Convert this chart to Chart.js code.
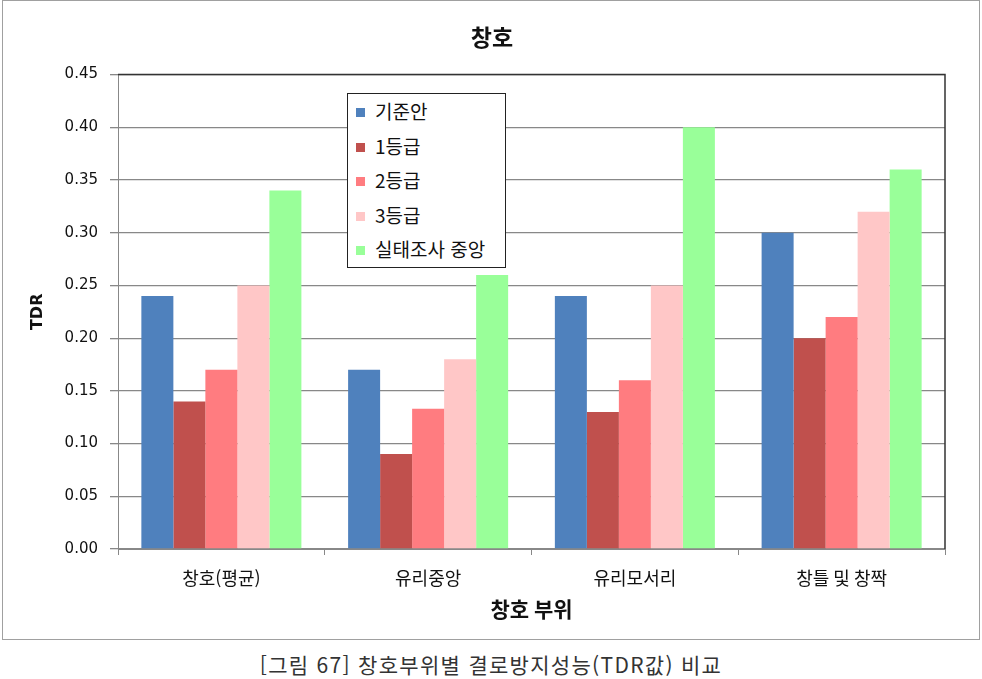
<!DOCTYPE html>
<html lang="ko">
<head>
  <meta charset="UTF-8">
  <title>창호</title>
  <script src="https://cdn.jsdelivr.net/npm/chart.js"></script>
  <style>
    body { margin: 0; background: #fff; }
    #frame { position: absolute; left: 2px; top: 0px; width: 976px; height: 638px; border: 1px solid #a0a0a0; }
    #legendBox { position: absolute; left: 344px; top: 92px; width: 157px; border: 1px solid #222; background: #fff;
      font-family: "Noto Sans CJK KR", sans-serif; font-size: 19px; color: #111; padding: 0; }
    #legendBox div { height: 34.5px; line-height: 34.5px; padding-left: 8px; white-space: nowrap; }
    #legendBox span { display: inline-block; width: 9px; height: 9px; margin-right: 10px; vertical-align: 2px; }
    #caption { position: absolute; left: 0; top: 649px; width: 982px; text-align: center;
      font-family: "Noto Sans CJK KR", sans-serif; font-size: 21px; color: #333; letter-spacing: 1.3px; }
  </style>
</head>
<body>
<div id="frame">
  <canvas id="tdrChart" width="976" height="638"></canvas>
  <div id="legendBox"></div>
</div>
<div id="caption">[그림 67] 창호부위별 결로방지성능(TDR값) 비교</div>

<script>
  // categories and series
  var parts = ['창호(평균)', '유리중앙', '유리모서리', '창틀 및 창짝'];
  var seriesNames = ['기준안', '1등급', '2등급', '3등급', '실태조사 중앙'];
  var seriesColors = ['#4F81BD', '#C0504D', '#FF7C80', '#FFC7C7', '#99FF99'];
  var base = [0.24, 0.17, 0.24, 0.30];
  var grade1 = [0.14, 0.09, 0.13, 0.20];
  var grade2 = [0.17, 0.133, 0.16, 0.22];
  var grade3 = [0.25, 0.18, 0.25, 0.32];
  var survey = [0.34, 0.26, 0.40, 0.36];
  var seriesValues = [base, grade1, grade2, grade3, survey];

  var korFont = '"DejaVu Sans", "Noto Sans CJK KR", sans-serif';

  // legend drawn as a box inside the plot
  var legendBox = document.getElementById('legendBox');
  seriesNames.forEach(function(name, i) {
    var row = document.createElement('div');
    row.innerHTML = '<span style="background:' + seriesColors[i] + '"></span>' + name;
    legendBox.appendChild(row);
  });

  // dark top / right edge of the plot area
  var plotBorder = {
    id: 'plotBorder',
    afterDraw: function(chart) {
      var a = chart.chartArea, ctx = chart.ctx;
      ctx.save();
      ctx.strokeStyle = '#333';
      ctx.lineWidth = 1.5;
      ctx.beginPath();
      ctx.moveTo(a.left, a.top);
      ctx.lineTo(a.right, a.top);
      ctx.lineTo(a.right, a.bottom);
      ctx.stroke();
      ctx.restore();
    }
  };

  var ctx = document.getElementById('tdrChart').getContext('2d');
  new Chart(ctx, {
    type: 'bar',
    data: {
      labels: parts,
      datasets: seriesNames.map(function(name, i) {
        return {
          label: name,
          data: seriesValues[i],
          backgroundColor: seriesColors[i],
          categoryPercentage: 0.774,
          barPercentage: 1.0
        };
      })
    },
    options: {
      responsive: false,
      animation: false,
      // left padding keeps the title centred on the whole frame
      layout: { padding: { left: 36, right: 34, top: 0, bottom: 0 } },
      plugins: {
        legend: { display: false },
        tooltip: { enabled: false },
        title: {
          display: true,
          text: '창호',
          color: '#111',
          font: { family: '"Noto Sans CJK KR", sans-serif', size: 23, weight: 'bold', lineHeight: 1.2 },
          padding: { top: 22, bottom: 24 }
        }
      },
      scales: {
        x: {
          afterFit: function(s) { s.height = 90; },
          grid: { drawOnChartArea: false, drawTicks: true, tickLength: 6, color: '#888', offset: true },
          border: { color: '#888' },
          ticks: { color: '#111', padding: 12, font: { family: '"Noto Sans CJK KR", sans-serif', size: 18 } },
          title: {
            display: true, text: '창호 부위', color: '#111',
            font: { family: '"Noto Sans CJK KR", sans-serif', size: 21, weight: 'bold', lineHeight: 1.2 },
            padding: { top: 0, bottom: 17 }
          }
        },
        y: {
          min: 0,
          max: 0.45,
          afterFit: function(s) { s.width = 79; },
          grid: { color: '#888', lineWidth: 1.3, tickLength: 8 },
          border: { color: '#888' },
          ticks: {
            stepSize: 0.05,
            color: '#111',
            padding: 12,
            font: { family: korFont, size: 15 },
            callback: function(v) { return v.toFixed(2); }
          },
          title: {
            display: true, text: 'TDR', color: '#111',
            font: { family: korFont, size: 16, weight: 'bold', lineHeight: 1.2 },
            padding: { top: -11, bottom: 0 }
          }
        }
      }
    },
    plugins: [plotBorder]
  });
</script>
</body>
</html>
